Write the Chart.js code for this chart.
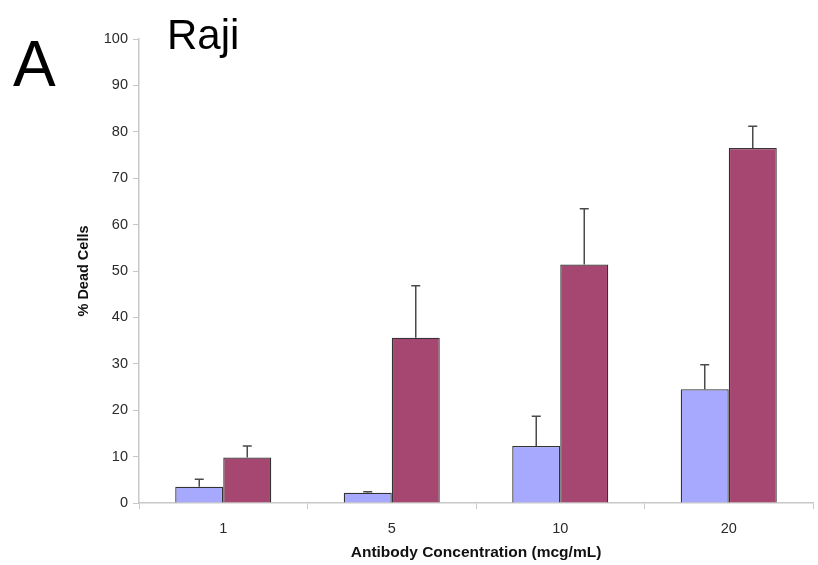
<!DOCTYPE html>
<html>
<head>
<meta charset="utf-8">
<script src="https://cdn.jsdelivr.net/npm/chart.js@4.4.1/dist/chart.umd.min.js"></script>
<style>
  html, body { margin: 0; padding: 0; background: #fff; }
  #wrap { position: relative; width: 818px; height: 565px; }
  #panel { position: absolute; left: 13px; top: 32px; font: 64px "Liberation Sans", Arial, sans-serif; color: #000; line-height: 1; }
  #cellLine { position: absolute; left: 167px; top: 14px; font: 42px "Liberation Sans", Arial, sans-serif; color: #000; line-height: 1; }
</style>
</head>
<body>
<div id="wrap">
  <canvas id="c" width="818" height="565"></canvas>
  <div id="panel">A</div>
  <div id="cellLine">Raji</div>
</div>
<script>
// Antibody concentrations (mcg/mL)
const categories = ['1', '5', '10', '20'];
// % dead cells, two treatment groups
const seriesA = [3.5, 2.2, 12.3, 24.5];
const seriesB = [9.8, 35.6, 51.4, 76.5];
// upper error bar limits (mean + SD)
const errA = [5.1, 2.4, 18.7, 29.8];
const errB = [12.3, 46.8, 63.4, 81.2];
// y-axis tick values
const yTicks = [0, 10, 20, 30, 40, 50, 60, 70, 80, 90, 100];

const FONT = 'Liberation Sans, Arial, sans-serif';

const errorBars = {
  id: 'errorBars',
  afterDatasetsDraw(chart) {
    const ctx = chart.ctx;
    const y = chart.scales.y;
    const tops = [errA, errB];
    ctx.save();
    chart.data.datasets.forEach((ds, di) => {
      const meta = chart.getDatasetMeta(di);
      meta.data.forEach((bar, i) => {
        const x = bar.x;
        const y0 = y.getPixelForValue(ds.data[i]);
        const y1 = y.getPixelForValue(tops[di][i]);
        ctx.strokeStyle = '#4a4a4a';
        ctx.lineWidth = 1.5;
        ctx.beginPath();
        ctx.moveTo(x, y0);
        ctx.lineTo(x, y1);
        ctx.moveTo(x - 4.5, y1);
        ctx.lineTo(x + 4.5, y1);
        ctx.stroke();
      });
    });
    ctx.restore();
  }
};

new Chart(document.getElementById('c'), {
  type: 'bar',
  data: {
    labels: categories,
    datasets: [
      { data: seriesA, backgroundColor: '#a7a9fe', borderColor: '#333', borderWidth: 1.3,
        categoryPercentage: 0.57, barPercentage: 1.0 },
      { data: seriesB, backgroundColor: '#a64771', borderColor: '#333', borderWidth: 1.3,
        categoryPercentage: 0.57, barPercentage: 1.0 }
    ]
  },
  options: {
    responsive: false,
    animation: false,
    layout: { padding: { top: 39, right: 5, left: 73, bottom: 0 } },
    plugins: { legend: { display: false }, tooltip: { enabled: false } },
    scales: {
      x: {
        grid: { display: true, drawOnChartArea: false, drawTicks: true, tickLength: 6, color: '#c8c8c8', offset: true },
        border: { display: true, color: '#c8c8c8', width: 1.5 },
        ticks: { color: '#2a2a2a', font: { family: FONT, size: 14.5 }, padding: 11 },
        title: { display: true, text: 'Antibody Concentration (mcg/mL)', color: '#111',
                 font: { family: FONT, size: 15.5, weight: 'bold' }, padding: { top: 0, bottom: 3 } },
        afterFit(scale) { scale.height = 62; }
      },
      y: {
        min: 0, max: 100,
        afterBuildTicks(scale) { scale.ticks = yTicks.map(v => ({ value: v })); },
        grid: { display: true, drawOnChartArea: false, drawTicks: true, tickLength: 6, color: '#c8c8c8' },
        border: { display: true, color: '#c8c8c8', width: 1.5 },
        ticks: { color: '#2a2a2a', font: { family: FONT, size: 14.5 }, padding: 5 },
        title: { display: true, text: '% Dead Cells', color: '#111',
                 font: { family: FONT, size: 14.5, weight: 'bold' }, padding: { top: 2, bottom: 0 } },
        afterFit(scale) { scale.width = 66; }
      }
    }
  },
  plugins: [errorBars]
});
</script>
</body>
</html>
